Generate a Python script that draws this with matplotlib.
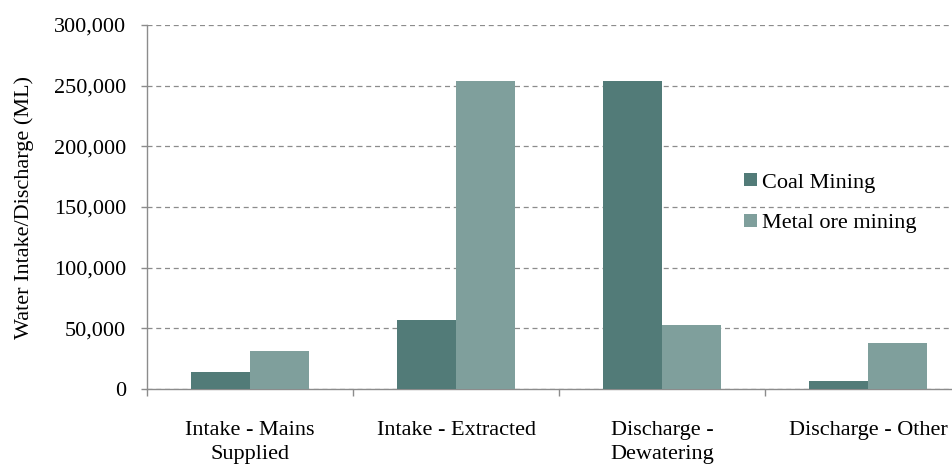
import numpy as np
import matplotlib
matplotlib.use("Agg")
import matplotlib.pyplot as plt
from matplotlib.ticker import FuncFormatter, FixedLocator

# data
categories = ["Intake - Mains\nSupplied", "Intake - Extracted",
              "Discharge -\nDewatering", "Discharge - Other"]
coal_mining = [14000, 57000, 254000, 7000]
metal_ore_mining = [31000, 254000, 53000, 38000]
series_names = ["Coal Mining", "Metal ore mining"]

plt.rcParams['font.family'] = ['Liberation Serif', 'DejaVu Serif']

coal_color = '#527b78'
metal_color = '#7f9f9c'
axis_gray = '#8c8c8c'


def visualization():
    fig = plt.figure(figsize=(9.53, 4.65), dpi=100)
    # axes run a bit past the right edge, like the cropped original
    ax = fig.add_axes([0.1543, 0.1634, 0.8646, 0.7828])

    x = np.arange(len(categories)) + 0.5
    width = 0.285
    ax.bar(x - width / 2, coal_mining, width, color=coal_color, label=series_names[0], zorder=3)
    ax.bar(x + width / 2, metal_ore_mining, width, color=metal_color, label=series_names[1], zorder=3)

    ax.set_xlim(0, len(categories))
    ax.set_ylim(0, 300000)
    ax.set_yticks(np.arange(0, 300001, 50000))
    ax.yaxis.set_major_formatter(FuncFormatter(lambda v, p: f"{int(v):,}"))

    # category boundaries as major ticks, names as minor labels
    ax.xaxis.set_major_locator(FixedLocator(np.arange(len(categories) + 1)))
    ax.set_xticklabels([])
    ax.set_xticks(x, minor=True)
    ax.set_xticklabels(categories, minor=True, fontsize=16, linespacing=1.35)
    ax.tick_params(axis='x', which='minor', length=0, pad=23)
    ax.tick_params(axis='x', which='major', length=5, width=1, color=axis_gray, direction='out')
    ax.tick_params(axis='y', length=4, width=1, color=axis_gray, labelsize=16, pad=11)

    for side in ['top', 'right']:
        ax.spines[side].set_visible(False)
    for side in ['left', 'bottom']:
        ax.spines[side].set_color(axis_gray)
        ax.spines[side].set_linewidth(1)

    ax.yaxis.grid(True, linestyle=(0, (4, 3)), color=axis_gray, linewidth=0.9, zorder=0)
    ax.set_axisbelow(True)

    ax.set_ylabel("Water Intake/Discharge (ML)", fontsize=16)
    ax.yaxis.set_label_coords(-0.1375, 0.5)

    fig.legend(loc='center left', bbox_to_anchor=(0.760, 0.563), frameon=False,
               fontsize=16, handlelength=0.55, handleheight=0.55, handletextpad=0.25,
               labelspacing=0.95)

    fig.savefig("out.png", dpi=100)


def main():
    visualization()


if __name__ == "__main__":
    main()
